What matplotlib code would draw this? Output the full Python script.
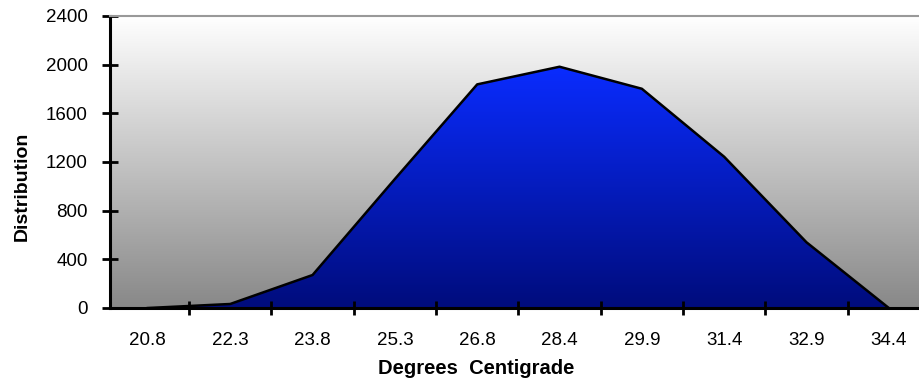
import numpy as np
import matplotlib
matplotlib.use('Agg')
import matplotlib.pyplot as plt
from matplotlib.colors import LinearSegmentedColormap
from matplotlib.patches import PathPatch

# data
categories = ['20.8', '22.3', '23.8', '25.3', '26.8', '28.4', '29.9', '31.4', '32.9', '34.4']
distribution = [0, 33, 271, 1060, 1838, 1983, 1802, 1243, 540, 0]
y_ticks = [0, 400, 800, 1200, 1600, 2000, 2400]

plt.rcParams['font.family'] = ['Liberation Sans', 'DejaVu Sans']

W, H = 919, 384
fig = plt.figure(figsize=(W / 100, H / 100), dpi=100)
# axes runs past the right edge of the figure, like the original crop
ax = fig.add_axes([110 / W, (H - 308) / H, 820 / W, 292 / H])

x = np.arange(len(categories))

# plot area background: white at top to gray at bottom
bg = LinearSegmentedColormap.from_list('bg', ['#888888', '#ffffff'])
grad = np.linspace(0, 1, 256).reshape(-1, 1)
ax.imshow(grad, cmap=bg, origin='lower', aspect='auto',
          extent=(-0.46, 9.5, 0, 2400), zorder=0)

# area with blue gradient fill
poly = ax.fill_between(x, distribution, 0, facecolor='none', edgecolor='none')
top = max(distribution)
blue = LinearSegmentedColormap.from_list('blue', ['#000c7c', '#0a2cff'])
im = ax.imshow(grad, cmap=blue, origin='lower', aspect='auto',
               extent=(x[0], x[-1], 0, top), zorder=1)
clip = PathPatch(poly.get_paths()[0], transform=ax.transData,
                 facecolor='none', edgecolor='none')
ax.add_patch(clip)
im.set_clip_path(clip)
ax.plot(x, distribution, color='black', linewidth=1.8, zorder=2)

ax.set_xlim(-0.46, 9.5)
ax.set_ylim(0, 2400)

# spines
ax.spines['right'].set_visible(False)
ax.spines['top'].set_color('#999999')
ax.spines['top'].set_linewidth(1.5)
ax.spines['left'].set_linewidth(2.2)
ax.spines['bottom'].set_linewidth(2.2)
for s in ax.spines.values():
    s.set_zorder(3)

ax.set_yticks(y_ticks)
ax.set_yticklabels([str(v) for v in y_ticks])
ax.tick_params(axis='y', direction='inout', length=12, width=2, pad=10,
               labelsize=13.5, colors='black')

ax.set_xticks(x)
ax.set_xticklabels(categories)
ax.set_xticks(x[:-1] + 0.5, minor=True)
ax.tick_params(axis='x', which='major', length=0, pad=17, labelsize=13.5)
ax.tick_params(axis='x', which='minor', direction='inout', length=10, width=2)

fig.text(22 / W, 1 - 186 / H, 'Distribution', rotation=90, ha='center', va='center',
         fontsize=14, fontweight='bold')
fig.text(476 / W, 1 - 369 / H, 'Degrees  Centigrade', ha='center', va='center',
         fontsize=14.5, fontweight='bold')

fig.savefig('out.png', dpi=100)
